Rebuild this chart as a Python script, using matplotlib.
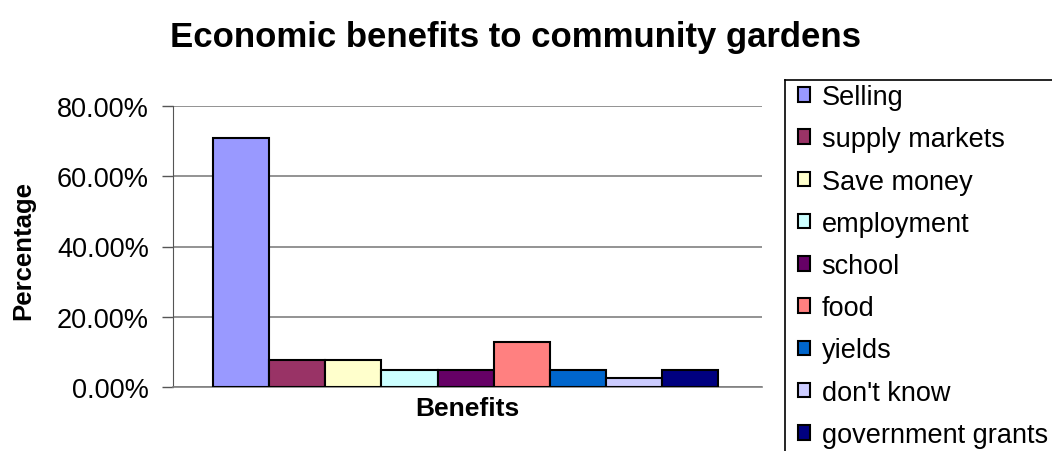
import numpy as np
import matplotlib
matplotlib.use("Agg")
import matplotlib.pyplot as plt
from matplotlib.patches import Patch
from matplotlib.ticker import PercentFormatter

plt.rcParams['font.family'] = ['Liberation Sans', 'DejaVu Sans']

# datos
benefits = ['Selling', 'supply markets', 'Save money', 'employment', 'school',
            'food', 'yields', "don't know", 'government grants']
percent = [0.708, 0.078, 0.078, 0.049, 0.049, 0.130, 0.049, 0.027, 0.049]
colors = ['#9999FF', '#993366', '#FFFFCC', '#CCFFFF', '#660066',
          '#FF8080', '#0066CC', '#CCCCFF', '#000080']
yticks = [0, 0.2, 0.4, 0.6, 0.8]

W, H = 1052, 452
fig = plt.figure(figsize=(W / 100, H / 100), dpi=100)
ax = fig.add_axes([172.7 / W, 1 - 388.3 / H, (762 - 172.7) / W, (388.3 - 106.7) / H])

x = np.arange(len(benefits))
ax.bar(x, percent, width=1.0, color=colors, edgecolor='black', linewidth=1.5, zorder=3)

ax.set_xlim(-1.22, len(benefits) - 1 + 1.28)
ax.set_ylim(0, 0.8)
ax.set_yticks(yticks)
ax.yaxis.set_major_formatter(PercentFormatter(1.0, decimals=2))
ax.tick_params(axis='y', labelsize=19.5, length=8, width=1, color='#555555', pad=9)
ax.set_xticks([])
ax.grid(axis='y', color='#808080', linewidth=1.2, zorder=0)

for s in ['top', 'right']:
    ax.spines[s].set_visible(False)
ax.spines['left'].set_color('#555555')
ax.spines['bottom'].set_color('#808080')
ax.spines['bottom'].set_linewidth(1.2)

ax.set_xlabel('Benefits', fontsize=19, fontweight='bold', labelpad=6)
fig.text(23 / W, 1 - 251 / H, 'Percentage', rotation=90, fontsize=18.5,
         fontweight='bold', ha='center', va='center')
fig.text(515 / W, 1 - 38 / H, 'Economic benefits to community gardens',
         fontsize=25, fontweight='bold', ha='center', va='center')

# leyenda con borde solo arriba e izquierda
handles = [Patch(facecolor=c, edgecolor='black', linewidth=1.5) for c in colors]
leg = fig.legend(handles, benefits, loc='upper left',
                 bbox_to_anchor=(798 / W, 1 - 85 / H), frameon=False,
                 fontsize=19.5, handlelength=0.45, handleheight=0.45,
                 handletextpad=0.42, labelspacing=0.6, borderpad=0,
                 borderaxespad=0)
fig.add_artist(plt.Line2D([785 / W, 785 / W], [0, 1 - 81 / H], color='black', linewidth=1.2,
                          transform=fig.transFigure))
fig.add_artist(plt.Line2D([785 / W, 1.0], [1 - 81 / H, 1 - 81 / H], color='black', linewidth=1.2,
                          transform=fig.transFigure))

fig.savefig('out.png', dpi=100)
